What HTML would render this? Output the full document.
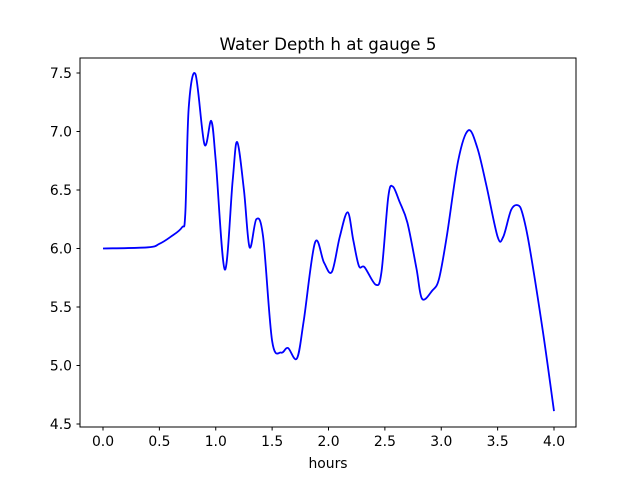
<!DOCTYPE html>
<html><head><meta charset="utf-8"><style>
body{margin:0;background:#fff;}
svg text{font-family:"DejaVu Sans","Liberation Sans",sans-serif;fill:#000;}
</style></head><body>
<svg id="chart" width="640" height="480" viewBox="0 0 640 480" xmlns="http://www.w3.org/2000/svg">
<rect x="0" y="0" width="640" height="480" fill="#fff"/>
<text x="328" y="50" font-size="16.7" text-anchor="middle">Water Depth h at gauge 5</text>
<g id="xticks"></g>
<g id="yticks"></g>
<path id="line" fill="none" stroke="#0000ff" stroke-width="1.8"/>
<rect x="80" y="58" width="496" height="369" fill="none" stroke="#000" stroke-width="1"/>
<text x="328" y="468" font-size="13.9" text-anchor="middle">hours</text>
</svg>
<script>
const hours=[0,0.4,0.5,0.6,0.7,0.73,0.76,0.82,0.9,0.96,1.0,1.08,1.15,1.19,1.25,1.3,1.36,1.42,1.5,1.58,1.64,1.72,1.78,1.88,1.96,2.03,2.1,2.17,2.22,2.27,2.32,2.42,2.47,2.53,2.57,2.63,2.7,2.78,2.83,2.92,2.98,3.05,3.15,3.24,3.32,3.4,3.5,3.55,3.62,3.68,3.72,3.78,3.9,4.0];
const depth=[6.0,6.01,6.04,6.1,6.18,6.3,7.2,7.49,6.89,7.09,6.75,5.82,6.58,6.91,6.5,6.01,6.25,6.1,5.21,5.11,5.15,5.06,5.38,6.05,5.88,5.8,6.1,6.31,6.07,5.85,5.84,5.69,5.8,6.44,6.53,6.4,6.22,5.83,5.57,5.64,5.74,6.11,6.75,7.01,6.86,6.54,6.1,6.1,6.33,6.37,6.3,6.03,5.3,4.61];
const xTicks=[0,0.5,1,1.5,2,2.5,3,3.5,4];
const yTicks=[4.5,5,5.5,6,6.5,7,7.5];
const NS="http://www.w3.org/2000/svg";
const xs=v=>103+v*112.75;
const ys=v=>73+(7.5-v)*117;
const xg=document.getElementById('xticks'),yg=document.getElementById('yticks');
xTicks.forEach(t=>{
 const l=document.createElementNS(NS,'line');
 
 
 l.setAttribute('x1',xs(t));l.setAttribute('x2',xs(t));l.setAttribute('y1',427);l.setAttribute('y2',430.5);l.setAttribute('stroke','#000');
 xg.appendChild(l);
 const tx=document.createElementNS(NS,'text');
 
 
 tx.setAttribute('x',xs(t));tx.setAttribute('y',446);tx.setAttribute('font-size','13.9');tx.setAttribute('text-anchor','middle');
 tx.textContent=t.toFixed(1);xg.appendChild(tx);
});
yTicks.forEach(t=>{
 const l=document.createElementNS(NS,'line');
 
 
 l.setAttribute('x1',76.5);l.setAttribute('x2',80);l.setAttribute('y1',ys(t));l.setAttribute('y2',ys(t));l.setAttribute('stroke','#000');
 yg.appendChild(l);
 const tx=document.createElementNS(NS,'text');
 
 
 tx.setAttribute('x',72);tx.setAttribute('y',ys(t)+5);tx.setAttribute('font-size','13.9');tx.setAttribute('text-anchor','end');
 tx.textContent=t.toFixed(1);yg.appendChild(tx);
});
const P=hours.map((h,i)=>[xs(h),ys(depth[i])]);
let d='M'+P[0][0]+','+P[0][1];
for(let i=0;i<P.length-1;i++){
 const p0=P[Math.max(0,i-1)],p1=P[i],p2=P[i+1],p3=P[Math.min(P.length-1,i+2)];
 const c1=[p1[0]+(p2[0]-p0[0])/6,p1[1]+(p2[1]-p0[1])/6];
 const c2=[p2[0]-(p3[0]-p1[0])/6,p2[1]-(p3[1]-p1[1])/6];
 d+=' C'+c1[0]+','+c1[1]+' '+c2[0]+','+c2[1]+' '+p2[0]+','+p2[1];
}
document.getElementById('line').setAttribute('d',d);
</script>
</body></html>
